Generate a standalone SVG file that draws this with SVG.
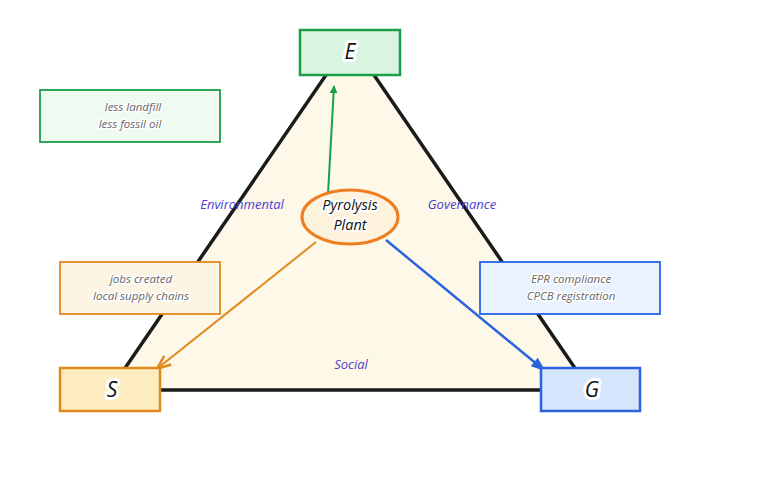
<svg xmlns="http://www.w3.org/2000/svg" width="780" height="500" viewBox="0 0 780 500">
<defs>
<style>
.t{font-family:"Open Sans","Liberation Sans",sans-serif;font-style:italic;text-anchor:middle;paint-order:stroke;stroke:#fff;stroke-linejoin:round}
.note{font-size:11.5px;fill:#666;stroke-width:3}
.lab{font-size:13px;fill:#4a3fcf;stroke:none}
.big{font-size:21px;fill:#111;stroke-width:6}
.ctr{font-size:14.5px;fill:#111;stroke-width:4}
</style>
<marker id="ag" viewBox="0 0 10 10" refX="9" refY="5" markerWidth="8" markerHeight="8" orient="auto-start-reverse" markerUnits="userSpaceOnUse"><path d="M0,0 L10,5 L0,10 z" fill="#1a9e4a"/></marker>
<marker id="ao" viewBox="0 0 10 10" refX="9" refY="5" markerWidth="14" markerHeight="14" orient="auto" markerUnits="userSpaceOnUse"><path d="M0,1 L10,5 L0,9" fill="none" stroke="#e08a1e" stroke-width="1.8"/></marker>
<marker id="ab" viewBox="0 0 10 10" refX="9" refY="5" markerWidth="14" markerHeight="14" orient="auto" markerUnits="userSpaceOnUse"><path d="M0,1 L10,5 L0,9 z" fill="#2a62e0"/></marker>
</defs>
<rect width="780" height="500" fill="#fff"/>
<g id="triangle">
<polygon points="350,40 110,390 590,390" fill="#fdf8e8" stroke="#1b1b1b" stroke-width="3.5" stroke-linejoin="round"/>
</g>
<g id="labels">
<text class="t lab" x="242" y="209">Environmental</text>
<text class="t lab" x="462" y="209">Governance</text>
<text class="t lab" x="351" y="369">Social</text>
</g>
<g id="connectors" fill="none" stroke-width="2">
<path d="M328,194 L334,86" stroke="#1a9e4a" marker-end="url(#ag)"/>
<path d="M316,242 L158,368" stroke="#e08a1e" marker-end="url(#ao)"/>
<path d="M386,240 L544,370" stroke="#2a62e0" stroke-width="2.5" marker-end="url(#ab)"/>
</g>
<g id="node-center">
<ellipse cx="350" cy="217" rx="48" ry="27" fill="#fdf3dc" stroke="#ef7d22" stroke-width="3"/>
<text class="t ctr" x="350" y="210">Pyrolysis</text>
<text class="t ctr" x="350" y="230">Plant</text>
</g>
<g id="node-E">
<rect x="300" y="30" width="100" height="45" fill="#d9f5e1" stroke="#1a9e4a" stroke-width="2.5"/>
<text class="t big" x="350" y="59">E</text>
</g>
<g id="node-S">
<rect x="60" y="368" width="100" height="43" fill="#fdecc0" stroke="#e08a1e" stroke-width="2.5"/>
<text class="t big" x="112" y="397">S</text>
</g>
<g id="node-G">
<rect x="541" y="368" width="99" height="43" fill="#d6e6fd" stroke="#2a62e0" stroke-width="2.5"/>
<text class="t big" x="592" y="397">G</text>
</g>
<g id="note-env">
<rect x="40" y="90" width="180" height="52" fill="#effbf1" stroke="#1a9e4a" stroke-width="1.8"/>
<text class="t note" x="133" y="111">less landfill</text>
<text class="t note" x="130" y="128">less fossil oil</text>
</g>
<g id="note-soc">
<rect x="60" y="262" width="160" height="52" fill="#fdf5e3" stroke="#e08a1e" stroke-width="1.8"/>
<text class="t note" x="141" y="283">jobs created</text>
<text class="t note" x="141" y="300">local supply chains</text>
</g>
<g id="note-gov">
<rect x="480" y="262" width="180" height="52" fill="#eaf2fe" stroke="#2a62e0" stroke-width="1.8"/>
<text class="t note" x="571" y="283">EPR compliance</text>
<text class="t note" x="571" y="300">CPCB registration</text>
</g>
</svg>
